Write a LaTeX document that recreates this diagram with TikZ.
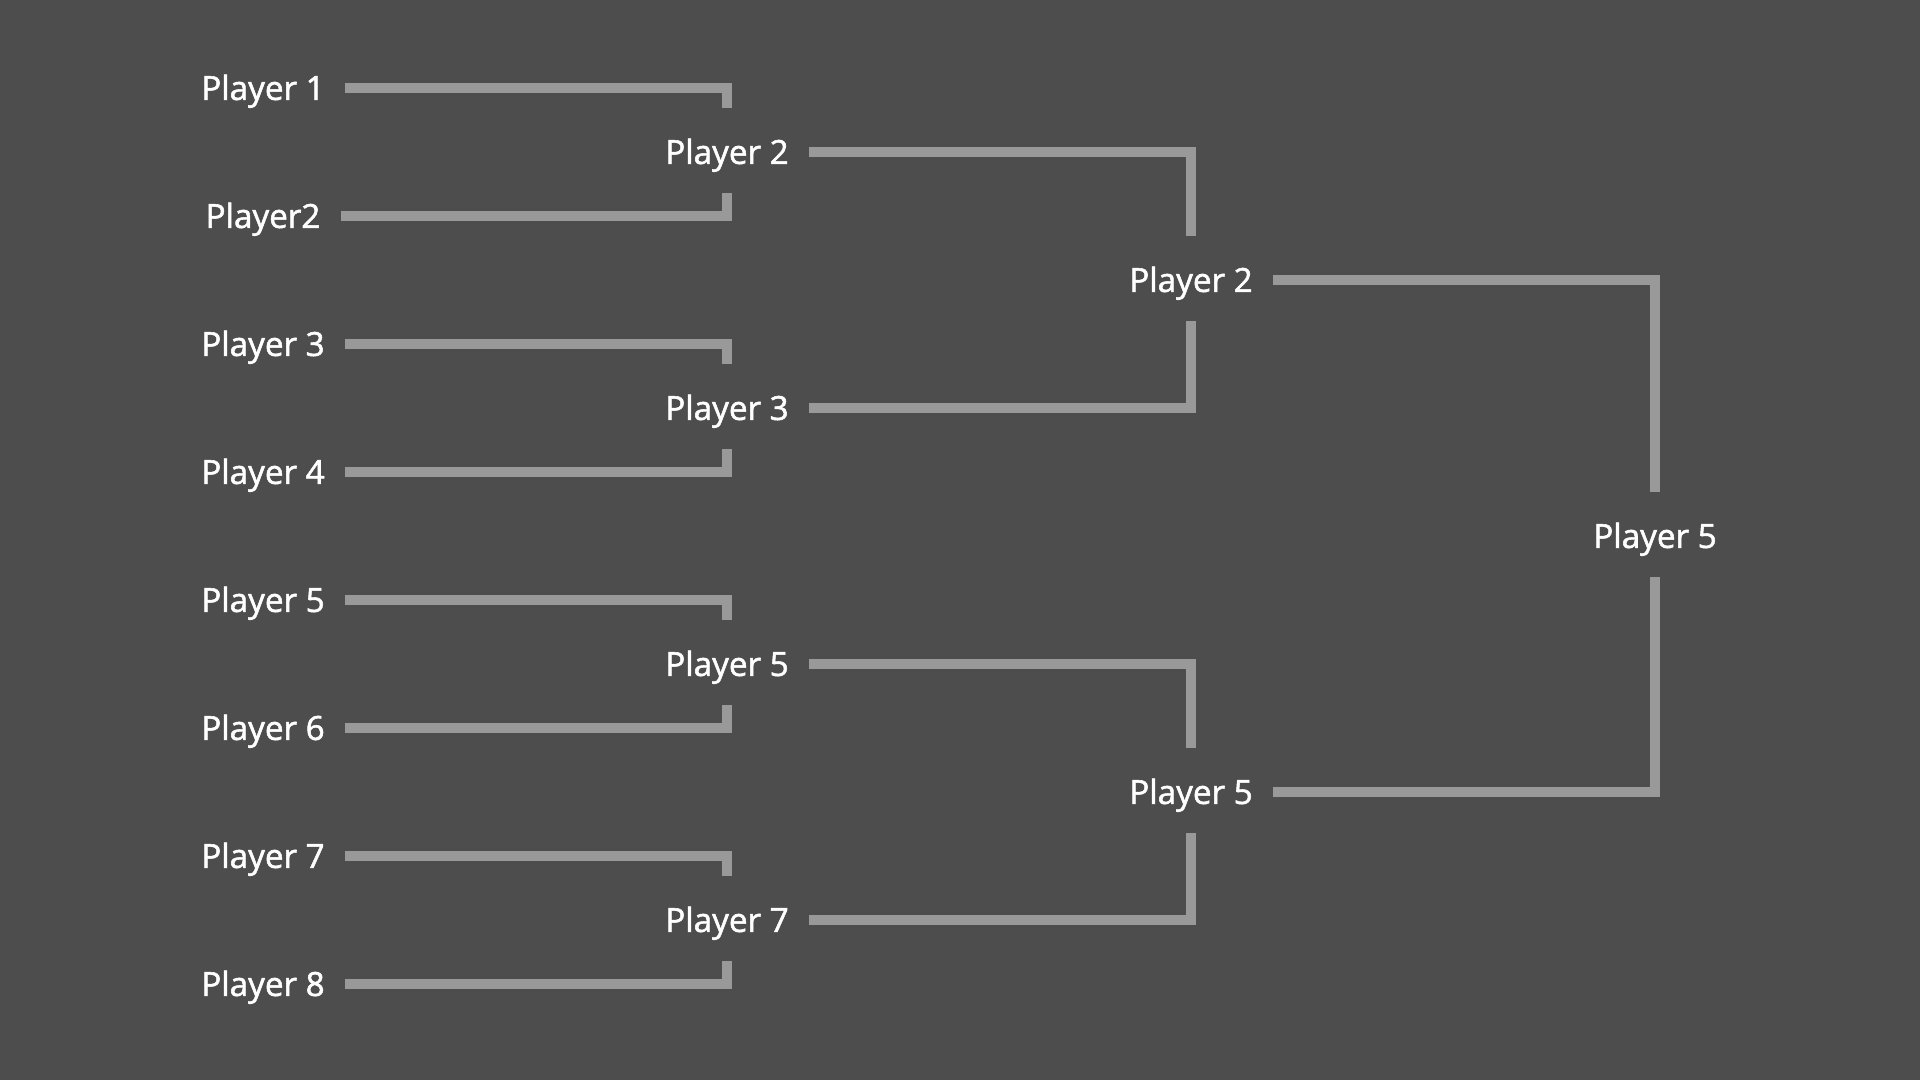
\documentclass[tikz,border=0pt]{standalone}
\usepackage{fontspec}
\newfontfamily\lblfont{Open Sans}[FakeBold=1.6]
\definecolor{bgc}{HTML}{4D4D4D}
\definecolor{wirec}{HTML}{999999}
\begin{document}
\begin{tikzpicture}[x=1cm,y=1cm,
  lbl/.style={text=white, inner sep=0pt, font=\lblfont\fontsize{9.45pt}{11pt}\selectfont, text height=6.8pt, text depth=0pt, anchor=center},
  wire/.style={draw=wirec, line width=2.8pt, line join=miter, line cap=butt}]
\fill[bgc] (0,0) rectangle (19.2,10.8);
\useasboundingbox (0,0) rectangle (19.2,10.8);
% round 1
\node[lbl] (a1) at (2.63,9.92) {Player 1};
\node[lbl] (a2) at (2.63,8.64) {Player2};
\node[lbl] (a3) at (2.63,7.36) {Player 3};
\node[lbl] (a4) at (2.63,6.08) {Player 4};
\node[lbl] (a5) at (2.63,4.80) {Player 5};
\node[lbl] (a6) at (2.63,3.52) {Player 6};
\node[lbl] (a7) at (2.63,2.24) {Player 7};
\node[lbl] (a8) at (2.63,0.96) {Player 8};
% round 2
\node[lbl] (b1) at (7.27,9.28) {Player 2};
\node[lbl] (b2) at (7.27,6.72) {Player 3};
\node[lbl] (b3) at (7.27,4.16) {Player 5};
\node[lbl] (b4) at (7.27,1.60) {Player 7};
% round 3
\node[lbl] (c1) at (11.91,8.00) {Player 2};
\node[lbl] (c2) at (11.91,2.88) {Player 5};
% final
\node[lbl] (d1) at (16.55,5.44) {Player 5};
% connectors
\draw[wire] ([xshift=2mm]a1.east) -| ([yshift=4.4mm]b1.center);
\draw[wire] ([xshift=2mm]a2.east) -| ([yshift=-4.1mm]b1.center);
\draw[wire] ([xshift=2mm]a3.east) -| ([yshift=4.4mm]b2.center);
\draw[wire] ([xshift=2mm]a4.east) -| ([yshift=-4.1mm]b2.center);
\draw[wire] ([xshift=2mm]a5.east) -| ([yshift=4.4mm]b3.center);
\draw[wire] ([xshift=2mm]a6.east) -| ([yshift=-4.1mm]b3.center);
\draw[wire] ([xshift=2mm]a7.east) -| ([yshift=4.4mm]b4.center);
\draw[wire] ([xshift=2mm]a8.east) -| ([yshift=-4.1mm]b4.center);
\draw[wire] ([xshift=2mm]b1.east) -| ([yshift=4.4mm]c1.center);
\draw[wire] ([xshift=2mm]b2.east) -| ([yshift=-4.1mm]c1.center);
\draw[wire] ([xshift=2mm]b3.east) -| ([yshift=4.4mm]c2.center);
\draw[wire] ([xshift=2mm]b4.east) -| ([yshift=-4.1mm]c2.center);
\draw[wire] ([xshift=2mm]c1.east) -| ([yshift=4.4mm]d1.center);
\draw[wire] ([xshift=2mm]c2.east) -| ([yshift=-4.1mm]d1.center);
\end{tikzpicture}
\end{document}
